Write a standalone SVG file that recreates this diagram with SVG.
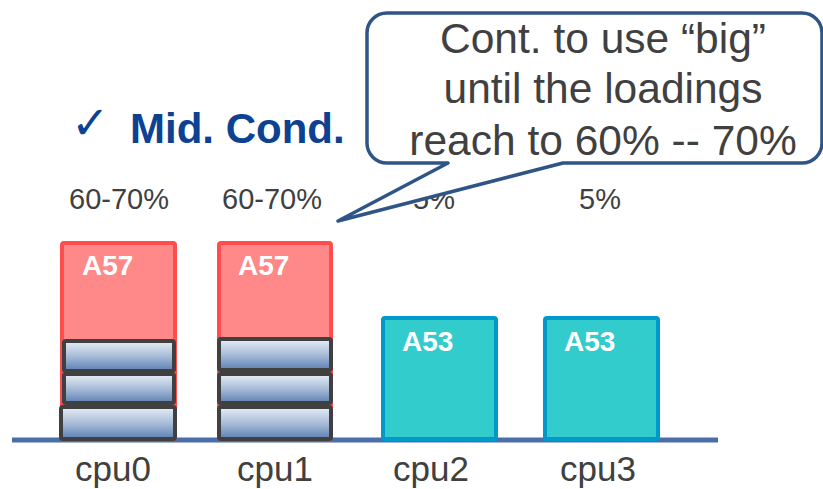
<svg xmlns="http://www.w3.org/2000/svg" width="823" height="489" viewBox="0 0 823 489">
<defs>
<linearGradient id="gBlk" x1="0" y1="0" x2="0" y2="1">
<stop offset="0" stop-color="#E8EEF6"/>
<stop offset="0.5" stop-color="#A9BDD8"/>
<stop offset="1" stop-color="#5B7FB3"/>
</linearGradient>
<style>
.big{fill:#FF8888;stroke:#FF4D4D;stroke-width:4}
.lit{fill:#33CCCC;stroke:#0099CC;stroke-width:4}
.blk{fill:url(#gBlk);stroke:#404040;stroke-width:4}
.core{font-family:"Liberation Sans",Arial,sans-serif;font-weight:bold;font-size:28px;fill:#FFFFFF}
.pct{font-family:"Liberation Sans",Arial,sans-serif;font-size:29px;fill:#404040}
.cpu{font-family:"Liberation Sans",Arial,sans-serif;font-size:35px;fill:#404040}
.call{font-family:"Liberation Sans",Arial,sans-serif;font-size:42.5px;fill:#404040;text-anchor:middle}
</style>
</defs>
<rect width="823" height="489" fill="#FFFFFF"/>
<g id="title">
<text x="71" y="139" font-family="DejaVu Sans,sans-serif" font-size="46" fill="#0D4191">✓</text>
<text x="130" y="143" font-family="Liberation Sans,Arial,sans-serif" font-weight="bold" font-size="42" fill="#0D4191">Mid. Cond.</text>
</g>
<g id="connectors">
<line id="bus" x1="12" y1="440" x2="718" y2="440" stroke="#4A6FA8" stroke-width="5"/>
</g>
<g id="cpu0">
<text class="pct" x="69" y="209">60-70%</text>
<rect class="big" x="62" y="243" width="113" height="196" rx="2"/>
<text class="core" x="82" y="275">A57</text>
<rect class="blk" x="64" y="341" width="110" height="30" rx="2"/>
<rect class="blk" x="64" y="374" width="110" height="29" rx="2"/>
<rect class="blk" x="61" y="407" width="114" height="32" rx="2"/>
<text class="cpu" x="75" y="481">cpu0</text>
</g>
<g id="cpu1">
<text class="pct" x="222" y="209">60-70%</text>
<rect class="big" x="219" y="243" width="112" height="196" rx="2"/>
<text class="core" x="238" y="275">A57</text>
<rect class="blk" x="219" y="339" width="112" height="31" rx="2"/>
<rect class="blk" x="219" y="374" width="112" height="29" rx="2"/>
<rect class="blk" x="219" y="407" width="112" height="32" rx="2"/>
<text class="cpu" x="237" y="481">cpu1</text>
</g>
<g id="cpu2">
<text class="pct" x="413" y="209">5%</text>
<rect class="lit" x="383" y="318" width="113" height="121" rx="2"/>
<text class="core" x="402" y="351">A53</text>
<text class="cpu" x="393" y="481">cpu2</text>
</g>
<g id="cpu3">
<text class="pct" x="579" y="209">5%</text>
<rect class="lit" x="545" y="318" width="113" height="121" rx="2"/>
<text class="core" x="564" y="351">A53</text>
<text class="cpu" x="560" y="481">cpu3</text>
</g>
<g id="callout">
<path d="M 387,13 H 802 A 20 20 0 0 1 822 33 V 143 A 20 20 0 0 1 802 163 H 563 L 338 221 L 448 163 H 387 A 20 20 0 0 1 367 143 V 33 A 20 20 0 0 1 387 13 Z" fill="#FFFFFF" stroke="#2F5486" stroke-width="3.5" stroke-linejoin="round"/>
<text class="call" x="603" y="53">Cont. to use “big”</text>
<text class="call" x="603" y="103">until the loadings</text>
<text class="call" x="603" y="155">reach to 60% -- 70%</text>
</g>
</svg>
